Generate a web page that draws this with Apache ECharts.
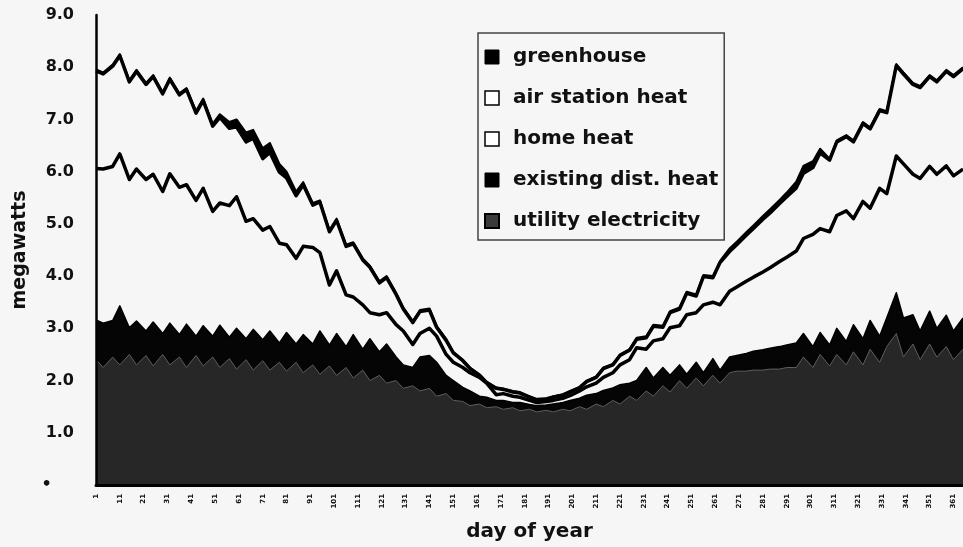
<!DOCTYPE html>
<html>
<head>
<meta charset="utf-8">
<title>megawatts by day of year</title>
<script src="https://cdn.jsdelivr.net/npm/echarts@6/dist/echarts.min.js"></script>
<style>
  html, body { margin: 0; padding: 0; background: #f6f6f6; }
  #chart { width: 963px; height: 547px; }
</style>
</head>
<body>
<div id="chart"></div>
<script>
// sample days: two per week, near the weekly highs and lows
var days = [
  1, 4, 8, 11, 15, 18, 22, 25, 29, 32,
  36, 39, 43, 46, 50, 53, 57, 60, 64, 67,
  71, 74, 78, 81, 85, 88, 92, 95, 99, 102,
  106, 109, 113, 116, 120, 123, 127, 130, 134, 137,
  141, 144, 148, 151, 155, 158, 162, 165, 169, 172,
  176, 179, 183, 186, 190, 193, 197, 200, 204, 207,
  211, 214, 218, 221, 225, 228, 232, 235, 239, 242,
  246, 249, 253, 256, 260, 263, 267, 270, 274, 277,
  281, 284, 288, 291, 295, 298, 302, 305, 309, 312,
  316, 319, 323, 326, 330, 333, 337, 340, 344, 347,
  351, 354, 358, 361, 365
];
var tickDays = [1, 11, 21, 31, 41, 51, 61, 71, 81, 91, 101, 111, 121, 131, 141, 151, 161, 171, 181,
  191, 201, 211, 221, 231, 241, 251, 261, 271, 281, 291, 301, 311, 321, 331, 341, 351, 361];
var yTickLabels = ['\u2022    ', '1.0', '2.0', '3.0', '4.0', '5.0', '6.0', '7.0', '8.0', '9.0'];

// cumulative levels (megawatts)
// top of the whole stack (greenhouse top)
var totalTop = [
  7.96, 7.90, 8.05, 8.25, 7.75, 7.95, 7.70, 7.85, 7.52, 7.80,
  7.50, 7.60, 7.16, 7.40, 6.92, 7.10, 6.95, 7.00, 6.75, 6.80,
  6.45, 6.55, 6.15, 6.00, 5.62, 5.80, 5.40, 5.45, 4.88, 5.10,
  4.60, 4.65, 4.34, 4.20, 3.90, 4.00, 3.68, 3.40, 3.14, 3.35,
  3.38, 3.05, 2.80, 2.55, 2.40, 2.25, 2.12, 1.98, 1.87, 1.85,
  1.80, 1.78, 1.70, 1.65, 1.66, 1.70, 1.74, 1.80, 1.88, 2.00,
  2.08, 2.25, 2.32, 2.50, 2.60, 2.82, 2.85, 3.07, 3.05, 3.33,
  3.40, 3.70, 3.65, 4.02, 4.00, 4.29, 4.53, 4.66, 4.84, 4.97,
  5.15, 5.28, 5.46, 5.60, 5.81, 6.11, 6.20, 6.44, 6.25, 6.60,
  6.70, 6.60, 6.95, 6.85, 7.20, 7.16, 8.06, 7.90, 7.70, 7.64,
  7.85, 7.75, 7.95, 7.85, 8.00
];
// top of home heat
var homeHeatTop = [
  6.06, 6.05, 6.10, 6.34, 5.85, 6.05, 5.85, 5.95, 5.62, 5.96,
  5.70, 5.75, 5.45, 5.68, 5.24, 5.40, 5.35, 5.52, 5.05, 5.10,
  4.88, 4.95, 4.63, 4.60, 4.34, 4.57, 4.55, 4.45, 3.83, 4.10,
  3.64, 3.60, 3.45, 3.30, 3.26, 3.30, 3.07, 2.95, 2.69, 2.90,
  3.00, 2.85, 2.50, 2.35, 2.25, 2.15, 2.06, 1.95, 1.73, 1.75,
  1.70, 1.68, 1.62, 1.58, 1.60, 1.62, 1.66, 1.71, 1.80, 1.88,
  1.95, 2.06, 2.15, 2.30, 2.40, 2.63, 2.60, 2.76, 2.80, 3.01,
  3.05, 3.26, 3.30, 3.45, 3.50, 3.45, 3.71, 3.79, 3.90, 3.98,
  4.08, 4.16, 4.28, 4.36, 4.48, 4.72, 4.80, 4.91, 4.85, 5.16,
  5.25, 5.10, 5.43, 5.30, 5.68, 5.58, 6.30, 6.15, 5.95, 5.87,
  6.10, 5.95, 6.11, 5.92, 6.05
];
// top of existing district heat
var distHeatTop = [
  3.16, 3.10, 3.15, 3.43, 3.01, 3.14, 2.95, 3.12, 2.90, 3.10,
  2.88, 3.08, 2.85, 3.05, 2.85, 3.06, 2.83, 3.00, 2.80, 2.98,
  2.78, 2.95, 2.72, 2.92, 2.70, 2.88, 2.70, 2.95, 2.68, 2.90,
  2.65, 2.88, 2.60, 2.80, 2.55, 2.70, 2.45, 2.30, 2.25, 2.45,
  2.48, 2.35, 2.10, 2.00, 1.87, 1.80, 1.70, 1.68, 1.62, 1.62,
  1.58, 1.58, 1.54, 1.52, 1.53, 1.55, 1.58, 1.62, 1.66, 1.72,
  1.75, 1.81, 1.86, 1.92, 1.95, 2.00, 2.25, 2.05, 2.25, 2.10,
  2.30, 2.12, 2.35, 2.15, 2.42, 2.20, 2.45, 2.48, 2.52, 2.56,
  2.59, 2.62, 2.65, 2.68, 2.72, 2.90, 2.65, 2.92, 2.68, 3.00,
  2.75, 3.07, 2.80, 3.15, 2.85, 3.20, 3.68, 3.20, 3.26, 2.95,
  3.33, 3.00, 3.25, 2.95, 3.20
];
// utility electricity (bottom layer)
var utilityElectricity = [
  2.40, 2.25, 2.45, 2.30, 2.50, 2.30, 2.48, 2.28, 2.50, 2.30,
  2.45, 2.25, 2.48, 2.28, 2.45, 2.25, 2.42, 2.22, 2.40, 2.20,
  2.38, 2.20, 2.35, 2.18, 2.35, 2.15, 2.30, 2.12, 2.28, 2.10,
  2.25, 2.05, 2.20, 2.00, 2.10, 1.95, 2.00, 1.85, 1.90, 1.80,
  1.85, 1.70, 1.75, 1.62, 1.60, 1.52, 1.55, 1.48, 1.50, 1.45,
  1.48, 1.42, 1.45, 1.40, 1.43, 1.40, 1.45, 1.42, 1.50, 1.45,
  1.55, 1.50, 1.62, 1.55, 1.70, 1.62, 1.80, 1.70, 1.90, 1.78,
  2.00, 1.85, 2.05, 1.90, 2.10, 1.95, 2.15, 2.18, 2.18, 2.20,
  2.20, 2.22, 2.22, 2.25, 2.25, 2.45, 2.25, 2.50, 2.28, 2.50,
  2.30, 2.55, 2.30, 2.60, 2.35, 2.65, 2.90, 2.45, 2.70, 2.40,
  2.70, 2.45, 2.65, 2.40, 2.60
];
// greenhouse (thin top layer)
var greenhouse = [
  0.03, 0.03, 0.03, 0.03, 0.03, 0.03, 0.03, 0.03, 0.03, 0.03,
  0.03, 0.03, 0.04, 0.04, 0.05, 0.06, 0.12, 0.14, 0.18, 0.16,
  0.20, 0.18, 0.16, 0.12, 0.08, 0.05, 0.04, 0.03, 0.03, 0.03,
  0.03, 0.03, 0.03, 0.03, 0.03, 0.03, 0.03, 0.03, 0.03, 0.03,
  0.03, 0.03, 0.03, 0.02, 0.02, 0.02, 0.02, 0.02, 0.02, 0.02,
  0.02, 0.02, 0.02, 0.02, 0.02, 0.02, 0.02, 0.02, 0.02, 0.02,
  0.02, 0.02, 0.02, 0.02, 0.02, 0.03, 0.03, 0.03, 0.03, 0.03,
  0.03, 0.03, 0.03, 0.03, 0.03, 0.03, 0.06, 0.06, 0.06, 0.06,
  0.06, 0.07, 0.07, 0.08, 0.12, 0.14, 0.12, 0.08, 0.03, 0.03,
  0.03, 0.03, 0.03, 0.03, 0.03, 0.03, 0.03, 0.03, 0.03, 0.03,
  0.03, 0.03, 0.03, 0.03, 0.03
];

// top of air station heat = whole stack minus the greenhouse band
var airStationTop = totalTop.map(function (v, i) { return +(v - greenhouse[i]).toFixed(2); });

function pairs(vals) {
  return days.map(function (d, i) { return [d, vals[i]]; });
}

var BG = '#f6f6f6';
var FONT = 'DejaVu Sans';

// each layer is an area from 0 up to its cumulative top; lower layers
// are painted later (higher z) so they cover the ones above them
function layer(name, vals, fill, line, width, z) {
  return {
    name: name,
    type: 'line',
    data: pairs(vals),
    symbol: 'none',
    showSymbol: false,
    z: z,
    lineStyle: { color: line, width: width, join: 'round' },
    areaStyle: { color: fill, opacity: 1, origin: 'start' },
    itemStyle: { color: fill },
    emphasis: { disabled: true }
  };
}

var chart = echarts.init(document.getElementById('chart'));
chart.setOption({
  animation: false,
  backgroundColor: BG,
  grid: { left: 96, right: -8, top: 15, bottom: 60 },
  legend: {
    orient: 'vertical',
    left: 478,
    top: 33,
    z: 20,
    padding: [14, 6, 9, 6],
    itemGap: 21,
    itemWidth: 14,
    itemHeight: 14,
    icon: 'rect',
    backgroundColor: BG,
    borderColor: '#444',
    borderWidth: 1.5,
    textStyle: {
      fontFamily: FONT, fontWeight: 'bold', fontSize: 20, color: '#111',
      lineHeight: 20, padding: [0, 0, 0, 9]
    },
    data: [
      { name: 'greenhouse', itemStyle: { color: '#000', borderColor: '#000', borderWidth: 1 } },
      { name: 'air station heat', itemStyle: { color: '#fff', borderColor: '#000', borderWidth: 1.5 } },
      { name: 'home heat', itemStyle: { color: '#fff', borderColor: '#000', borderWidth: 1.5 } },
      { name: 'existing dist. heat', itemStyle: { color: '#000', borderColor: '#000', borderWidth: 1 } },
      { name: 'utility electricity', itemStyle: { color: '#3a3a3a', borderColor: '#000', borderWidth: 2 } }
    ]
  },
  xAxis: [{
    type: 'value',
    min: 1,
    max: 365,
    z: 10,
    name: 'day of year',
    nameLocation: 'middle',
    nameGap: 37,
    nameTextStyle: { fontFamily: FONT, fontWeight: 'bold', fontSize: 20, color: '#111' },
    axisLine: { show: true, onZero: false, lineStyle: { color: '#000', width: 3 } },
    axisTick: { show: false },
    splitLine: { show: false },
    axisLabel: {
      customValues: tickDays,
      rotate: 90,
      margin: 9,
      fontFamily: FONT,
      fontWeight: 'bold',
      fontSize: 7,
      color: '#111'
    }
  }, {
    type: 'value',
    position: 'top',
    min: 1,
    max: 365,
    axisLine: { show: true, lineStyle: { color: '#8c8c8c', width: 2 } },
    axisTick: { show: false },
    axisLabel: { show: false },
    splitLine: { show: false }
  }],
  yAxis: {
    type: 'value',
    min: 0,
    max: 9,
    interval: 1,
    z: 10,
    name: 'megawatts',
    nameLocation: 'middle',
    nameGap: 66,
    nameRotate: 90,
    nameTextStyle: { fontFamily: FONT, fontWeight: 'bold', fontSize: 19, color: '#111' },
    axisLine: { show: true, lineStyle: { color: '#000', width: 2.5 } },
    axisTick: { show: false },
    splitLine: { show: false },
    axisLabel: {
      margin: 22,
      fontFamily: FONT,
      fontWeight: 'bold',
      fontSize: 16,
      color: '#111',
      formatter: function (v) { return yTickLabels[Math.round(v)]; }
    }
  },
  series: [
    layer('greenhouse', totalTop, '#000', '#000', 2, 2),
    layer('air station heat', airStationTop, BG, '#000', 3.5, 3),
    layer('home heat', homeHeatTop, BG, '#000', 3.5, 4),
    layer('existing dist. heat', distHeatTop, '#050505', '#000', 1.5, 5),
    layer('utility electricity', utilityElectricity, '#272727', '#5e5e5e', 1, 6)
  ]
});
</script>
</body>
</html>
